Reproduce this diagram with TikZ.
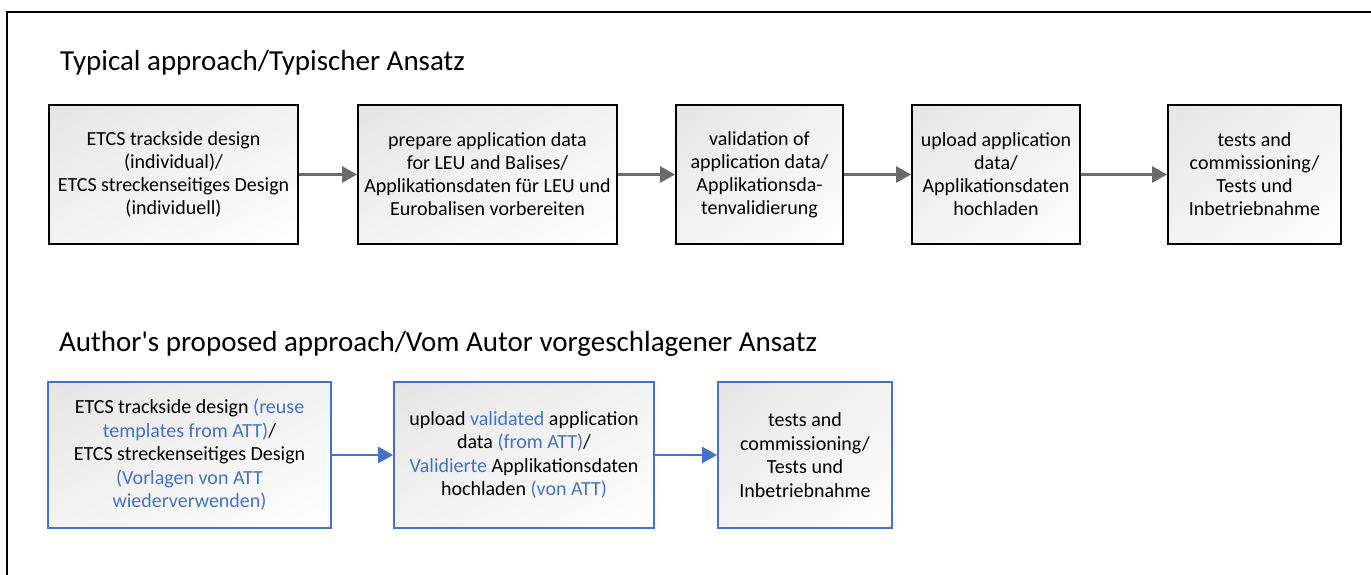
\documentclass[tikz,border=0pt]{standalone}
\usepackage{fontspec}
\setmainfont{Carlito}
% a second face without the TeX quote mapping, so ' stays straight
\newfontfamily\calfont{Carlito}
\usetikzlibrary{arrows.meta}
\definecolor{attblue}{HTML}{4472C4}
\definecolor{arrowgray}{HTML}{6B6B6B}
\newcommand{\hl}[1]{\textcolor{attblue}{#1}}
% soft diagonal fill: light grey in the upper left corner, white in the lower right
\pgfdeclarefunctionalshading{diagbox}{\pgfpointorigin}{\pgfpoint{100bp}{100bp}}{}{
  sub 50 add 100 div 0.10 mul 0.90 add dup 1 gt {pop 1} if dup dup
}
\tikzset{
  stepbox/.style={draw=black, line width=1.8pt, shade, shading=diagbox,
    align=center, minimum height=139pt, inner sep=0pt,
    font=\calfont\fontsize{20}{23}\selectfont},
  newbox/.style={stepbox, draw=attblue, minimum height=146pt,
    font=\calfont\fontsize{20}{23.5}\selectfont},
  grayarrow/.style={draw=arrowgray, line width=2.6pt,
    -{Triangle[length=15pt,width=16pt]}},
  bluearrow/.style={draw=attblue, line width=2.6pt,
    -{Triangle[length=15pt,width=16pt]}},
  heading/.style={anchor=base west, inner sep=0pt,
    font=\calfont\fontsize{29}{33}\selectfont}
}
\begin{document}
\begin{tikzpicture}[x=1pt,y=-1pt]
\useasboundingbox (0,0) rectangle (1371,575);
% outer frame
\draw[line width=1.6pt] (7,580) -- (7,12) -- (1380,12);

% typical approach
\node[heading] (h1) at (60,71) {Typical approach/Typischer Ansatz};
\node[stepbox, minimum width=249pt] (t1) at (173.5,174.5)
  {ETCS trackside design\\(individual)/\\ETCS streckenseitiges Design\\(individuell)};
\node[stepbox, minimum width=259pt] (t2) at (487.5,174.5)
  {prepare application data\\for LEU and Balises/\\Applikationsdaten für LEU und\\Eurobalisen vorbereiten};
\node[stepbox, minimum width=167pt] (t3) at (759.5,174.5)
  {validation of\\application data/\\Applikationsda-\\tenvalidierung};
\node[stepbox, minimum width=168pt] (t4) at (996,174.5)
  {upload application\\data/\\Applikationsdaten\\hochladen};
\node[stepbox, minimum width=173pt] (t5) at (1254.5,174.5)
  {tests and\\commissioning/\\Tests und\\Inbetriebnahme};
\draw[grayarrow] (t1) -- (t2);
\draw[grayarrow] (t2) -- (t3);
\draw[grayarrow] (t3) -- (t4);
\draw[grayarrow] (t4) -- (t5);

% proposed approach
\node[heading] (h2) at (59,351) {Author's proposed approach/Vom Autor vorgeschlagener Ansatz};
\node[newbox, minimum width=283pt] (p1) at (189.5,455)
  {ETCS trackside design \hl{(reuse}\\\hl{templates from ATT)}/\\ETCS streckenseitiges Design\\\hl{(Vorlagen von ATT}\\\hl{wiederverwenden)}};
\node[newbox, minimum width=260pt] (p2) at (524,455)
  {upload \hl{validated} application\\data \hl{(from ATT)}/\\\hl{Validierte} Applikationsdaten\\hochladen \hl{(von ATT)}};
\node[newbox, minimum width=174pt] (p3) at (805,455)
  {tests and\\commissioning/\\Tests und\\Inbetriebnahme};
\draw[bluearrow] (p1) -- (p2);
\draw[bluearrow] (p2) -- (p3);
\end{tikzpicture}
\end{document}
